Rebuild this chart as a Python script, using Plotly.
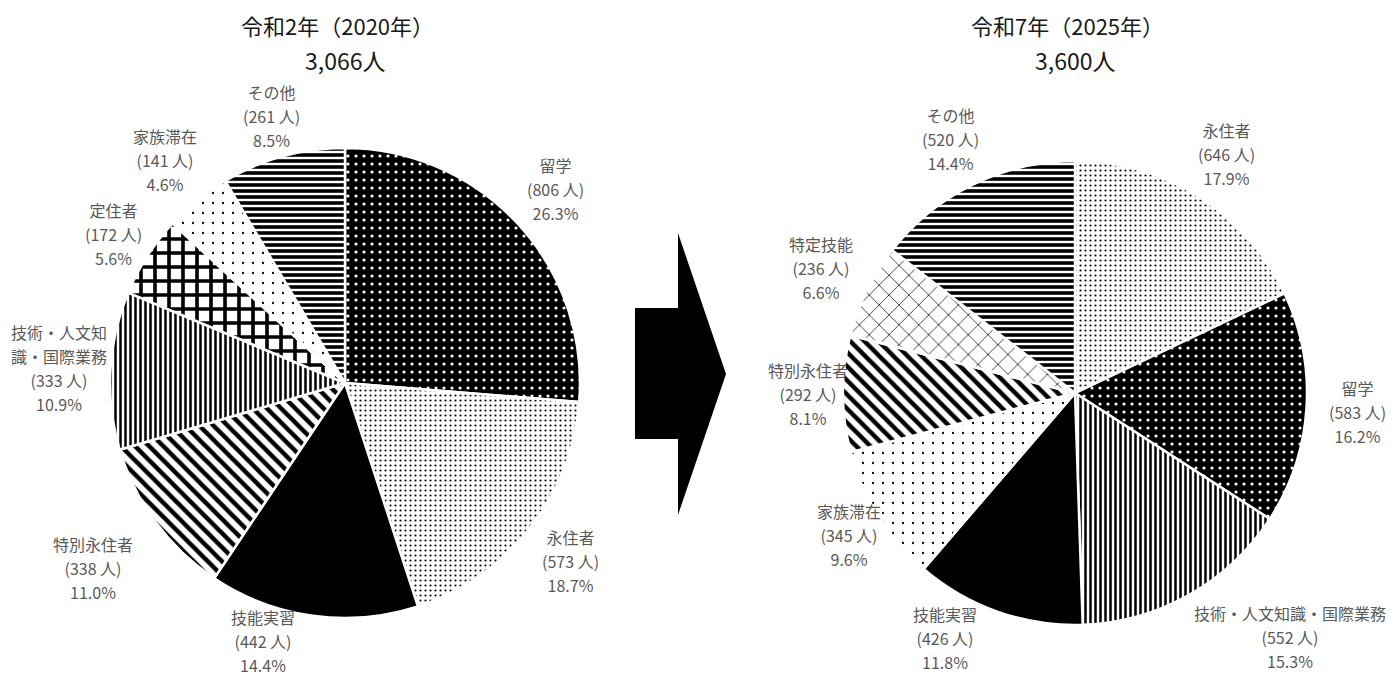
import math
import plotly.graph_objects as go

# reference canvas and browser body margin compensation
REF_W, REF_H = 1398, 686
BODY = 8
W, H = REF_W - 2 * BODY, REF_H - 2 * BODY

# ---- data ----
labels_2020 = ["留学", "永住者", "技能実習", "特別永住者", "技術・人文知識・国際業務", "定住者", "家族滞在", "その他"]
names_2020 = ["留学", "永住者", "技能実習", "特別永住者", "技術・人文知<br>識・国際業務", "定住者", "家族滞在", "その他"]
values_2020 = [806, 573, 442, 338, 333, 172, 141, 261]

labels_2025 = ["永住者", "留学", "技術・人文知識・国際業務", "技能実習", "家族滞在", "特別永住者", "特定技能", "その他"]
names_2025 = ["永住者", "留学", "技術・人文知識・国際業務", "技能実習", "家族滞在", "特別永住者", "特定技能", "その他"]
values_2025 = [646, 583, 552, 426, 345, 292, 236, 520]

title_2020 = "令和2年（2020年）"
total_2020 = "3,066人"
title_2025 = "令和7年（2025年）"
total_2025 = "3,600人"

# ---- styles per category ----
STYLE = {
    "留学":                 dict(shape=".",  bg="black", fg="white", size=8,  sol=0.12),
    "永住者":               dict(shape=".",  bg="white", fg="black", size=5,  sol=0.15),
    "技能実習":             dict(shape="",   bg="black", fg="black", size=8,  sol=0.5),
    "特別永住者":           dict(shape="\\", bg="white", fg="black", size=10, sol=0.45),
    "技術・人文知識・国際業務": dict(shape="|",  bg="white", fg="black", size=5,  sol=0.5),
    "定住者":               dict(shape="+",  bg="white", fg="black", size=14, sol=0.45),
    "家族滞在":             dict(shape=".",  bg="white", fg="black", size=10, sol=0.04),
    "その他":               dict(shape="-",  bg="white", fg="black", size=6,  sol=0.6),
    "特定技能":             dict(shape="x",  bg="white", fg="black", size=14, sol=0.1),
}

# label placement: distance from centre (in radii), anchors, pixel shift; defaults and per-label overrides
LABEL_DEFAULT = dict(k=1.22, xa="center", ya="middle", xs=0)
LABEL_2020 = {
    "特別永住者": dict(k=1.33),
    "技能実習": dict(k=1.11, xa="right", xs=-12),
    "定住者": dict(k=1.17),
    "その他": dict(k=1.18),
    "技術・人文知識・国際業務": dict(k=1.22),
}
LABEL_2025 = {
    "技術・人文知識・国際業務": dict(k=1.02, xa="left", ya="top"),
    "技能実習": dict(k=1.12, xa="right", xs=-10),
    "家族滞在": dict(k=1.15),
    "特別永住者": dict(k=1.15),
}

FONT = "Noto Sans CJK JP"
LABEL_COLOR = "#595959"
SPAN = "<span style='font-size:16px'>{}</span>"

# pie boxes in reference pixels (x0, x1, y0, y1)
BOX_2020 = (110, 580, 148, 618)
BOX_2025 = (843, 1307, 161, 625)


def px_dom(box):
    x0, x1, y0, y1 = box
    return dict(x=[(x0 - BODY) / W, (x1 - BODY) / W],
                y=[1 - (y1 - BODY) / H, 1 - (y0 - BODY) / H])


def make_pie(labels, values, box):
    st = [STYLE[l] for l in labels]
    return go.Pie(
        labels=labels,
        values=values,
        sort=False,
        direction="clockwise",
        rotation=0,
        domain=px_dom(box),
        textinfo="none",
        marker=dict(
            colors=[s["bg"] for s in st],
            line=dict(color="white", width=2.5),
            pattern=dict(
                shape=[s["shape"] for s in st],
                bgcolor=[s["bg"] for s in st],
                fgcolor=[s["fg"] for s in st],
                size=[s["size"] for s in st],
                solidity=[s["sol"] for s in st],
                fillmode="replace",
            ),
        ),
        showlegend=False,
        hoverinfo="label+value+percent",
    )


def label_annotations(labels, names, values, box, overrides):
    x0, x1, y0, y1 = box
    cx, cy = (x0 + x1) / 2, (y0 + y1) / 2
    r = min(x1 - x0, y1 - y0) / 2
    total = sum(values)
    anns = []
    cum = 0
    for lab, name, v in zip(labels, names, values):
        mid = (cum + v / 2) / total * 2 * math.pi
        cum += v
        opt = dict(LABEL_DEFAULT, **overrides.get(lab, {}))
        px = cx + opt["k"] * r * math.sin(mid)
        py = cy - opt["k"] * r * math.cos(mid)
        lines = name.split("<br>") + [f"({v} 人)", f"{v / total * 100:.1f}%"]
        txt = "<br>".join(SPAN.format(s) for s in lines)
        anns.append(dict(x=(px - BODY) / W, y=1 - (py - BODY) / H, xref="paper", yref="paper",
                         text=txt, showarrow=False, xanchor=opt["xa"], yanchor=opt["ya"],
                         xshift=opt["xs"],
                         align="center", font=dict(family=FONT, size=18.5, color=LABEL_COLOR)))
    return anns


fig = go.Figure()
fig.add_trace(make_pie(labels_2020, values_2020, BOX_2020))
fig.add_trace(make_pie(labels_2025, values_2025, BOX_2025))

annotations = []
annotations += label_annotations(labels_2020, names_2020, values_2020, BOX_2020, LABEL_2020)
annotations += label_annotations(labels_2025, names_2025, values_2025, BOX_2025, LABEL_2025)

for box, t, tot in [(BOX_2020, title_2020, total_2020), (BOX_2025, title_2025, total_2025)]:
    cx = (box[0] + box[1]) / 2
    annotations.append(dict(x=(cx - 8 - BODY) / W, y=1 - (25 - BODY) / H, xref="paper", yref="paper", text=t,
                            showarrow=False, font=dict(family=FONT, size=22, color="#1a1a1a"),
                            xanchor="center", yanchor="middle"))
    annotations.append(dict(x=(cx - BODY) / W, y=1 - (60 - BODY) / H, xref="paper", yref="paper", text=tot,
                            showarrow=False, font=dict(family=FONT, size=23, color="#1a1a1a"),
                            xanchor="center", yanchor="middle"))

# arrow shape between the pies
pts = [(635, 308), (678, 308), (678, 233), (726, 374), (678, 515), (678, 439), (635, 439)]
path = "M " + " L ".join(f"{(x - BODY) / W:.5f},{1 - (y - BODY) / H:.5f}" for x, y in pts) + " Z"

fig.update_layout(
    width=W, height=H,
    margin=dict(l=0, r=0, t=0, b=0),
    paper_bgcolor="white",
    plot_bgcolor="white",
    font=dict(family=FONT),
    annotations=annotations,
    shapes=[dict(type="path", path=path, xref="paper", yref="paper",
                 fillcolor="black", line=dict(width=0))],
)

fig.write_html("out.html")
